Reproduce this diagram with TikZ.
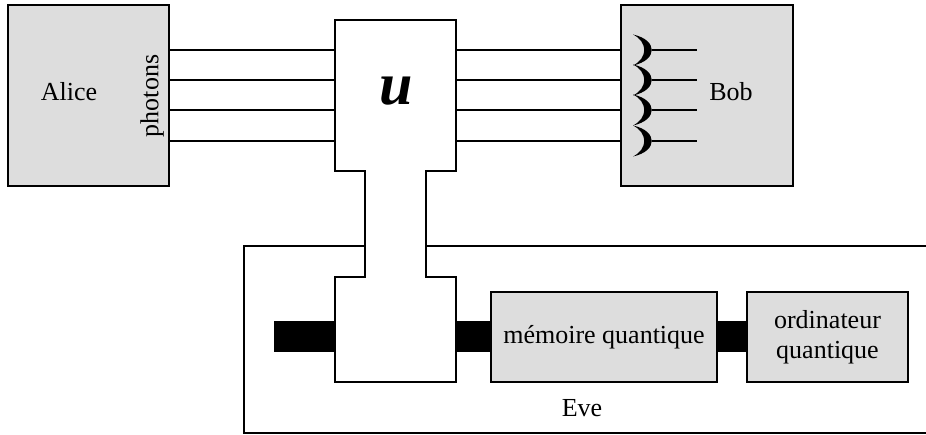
\documentclass[tikz,border=0pt]{standalone}
\usepackage{fontspec}
\setmainfont{Liberation Serif}
\definecolor{boxgray}{RGB}{221,221,221}
\begin{document}
\begin{tikzpicture}[x=1pt,y=-1pt,
  box/.style={draw,line width=1.3pt,fill=boxgray,rectangle,inner sep=0pt},
  frame/.style={line width=1.3pt},
  wire/.style={line width=1.2pt},
  bar/.style={line width=31pt,line cap=butt},
  lbl/.style={font=\fontsize{26}{30}\selectfont,align=center,inner sep=0pt}]
\useasboundingbox (0,0) rectangle (926,435);

% Alice and Bob
\node[box,minimum width=161pt,minimum height=181pt] (alice) at (88.5,95.5) {};
\node[lbl] (alicetxt) at (69,92) {Alice};
\node[lbl,rotate=90] (photons) at (152,96) {photons};
\node[box,minimum width=172pt,minimum height=181pt] (bob) at (707,95.5) {};
\node[lbl] (bobtxt) at (731,92) {Bob};

% Eve's open frame
\draw[frame] (365,246) -- (244,246) -- (244,433) -- (926,433);
\draw[frame] (426,246) -- (926,246);
\node[lbl] (eve) at (582,408) {Eve};

% the unitary device: upper block, neck, lower block
\draw[frame,fill=white] (335,20) -- (456,20) -- (456,171) -- (426,171)
  -- (426,277) -- (456,277) -- (456,382) -- (335,382) -- (335,277)
  -- (365,277) -- (365,171) -- (335,171) -- cycle;
\node[minimum width=121pt,minimum height=151pt,inner sep=0pt] (U) at (395.5,95.5) {};
\node[minimum width=121pt,minimum height=105pt,inner sep=0pt] (Ulow) at (395.5,329.5) {};
\node[font=\fontsize{60}{60}\selectfont\bfseries\itshape] (utxt) at (396,91) {u};

% Eve's quantum devices
\node[box,minimum width=226pt,minimum height=90pt] (mem) at (604,337) {};
\node[lbl] (memtxt) at (604,337) {mémoire quantique};
\node[box,minimum width=161pt,minimum height=90pt] (ord) at (827.5,337) {};
\node[lbl] (ordtxt) at (827.5,337) {ordinateur\\quantique};

% thick couplings
\coordinate (barL) at (274,337);
\draw[bar] (barL) -- (Ulow.west |- barL);
\draw[bar] (Ulow.east |- mem.west) -- (mem.west);
\draw[bar] (mem.east) -- (ord.west);

% photon lines and Bob's detectors
\foreach \y [count=\i] in {50,80,110,141} {
  \coordinate (w\i) at (0,\y);
  \coordinate (d\i) at (652,\y);
  \coordinate (e\i) at (697,\y);
  \draw[wire] (alice.east |- w\i) -- (U.west |- w\i);
  \draw[wire] (U.east |- w\i) -- (bob.west |- w\i);
  \fill (633,\y-15.5) .. controls (658,\y-10) and (658,\y+10) .. (633,\y+15.5)
        .. controls (648,\y+8) and (648,\y-8) .. cycle;
  \draw[wire] (d\i) -- (e\i);
}
\end{tikzpicture}
\end{document}
